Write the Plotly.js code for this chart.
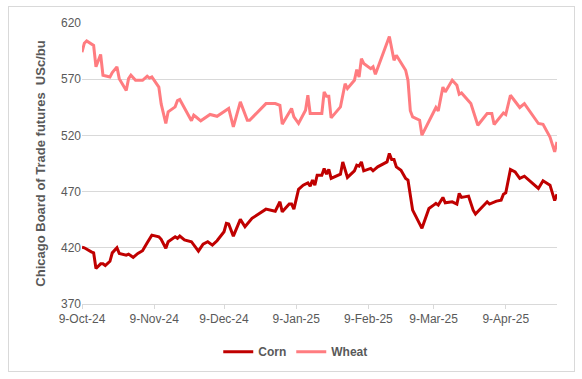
<!DOCTYPE html>
<html>
<head>
<meta charset="utf-8">
<script src="https://cdn.plot.ly/plotly-3.0.1.min.js"></script>
<style>
  html, body { margin: 0; padding: 0; background: #ffffff; }
  #wrap { position: relative; width: 582px; height: 379px; }
  #chart { position: absolute; left: 0; top: 0; width: 582px; height: 379px; }
  #frame { position: absolute; left: 8px; top: 6px; width: 565px; height: 364px; border: 1px solid #d9d9d9; pointer-events: none; }
</style>
</head>
<body>
<div id="wrap">
  <div id="chart"></div>
  <div id="frame"></div>
</div>
<script>
// ---- Data ----
const cornDates = [
  "2024-10-09","2024-10-10","2024-10-13","2024-10-14","2024-10-15","2024-10-17","2024-10-18","2024-10-19",
  "2024-10-21","2024-10-22","2024-10-24","2024-10-25","2024-10-28","2024-10-29","2024-10-30","2024-10-31",
  "2024-11-02","2024-11-04","2024-11-06","2024-11-08","2024-11-11","2024-11-12","2024-11-14","2024-11-15",
  "2024-11-18","2024-11-19","2024-11-20","2024-11-22","2024-11-25","2024-11-28","2024-11-30","2024-12-02",
  "2024-12-04","2024-12-06","2024-12-09","2024-12-10","2024-12-11","2024-12-13","2024-12-16","2024-12-18",
  "2024-12-21","2024-12-23","2024-12-27","2024-12-31","2025-01-02","2025-01-03","2025-01-06","2025-01-07",
  "2025-01-08","2025-01-10","2025-01-12","2025-01-14","2025-01-15","2025-01-16","2025-01-17","2025-01-18",
  "2025-01-20","2025-01-21","2025-01-22","2025-01-23","2025-01-24","2025-01-28","2025-01-29","2025-01-31",
  "2025-02-03","2025-02-04","2025-02-05","2025-02-06","2025-02-07","2025-02-10","2025-02-11","2025-02-13",
  "2025-02-17","2025-02-18","2025-02-19","2025-02-20","2025-02-21","2025-02-23","2025-02-25","2025-02-26",
  "2025-02-27","2025-02-28","2025-03-04","2025-03-07","2025-03-09","2025-03-10","2025-03-11","2025-03-13",
  "2025-03-14","2025-03-17","2025-03-19","2025-03-20","2025-03-21","2025-03-24","2025-03-26","2025-03-27",
  "2025-04-01","2025-04-02","2025-04-05","2025-04-07","2025-04-08","2025-04-09","2025-04-11","2025-04-13",
  "2025-04-15","2025-04-17","2025-04-23","2025-04-25","2025-04-28","2025-04-30","2025-05-01"
];
const cornValues = [
  420.5,420,416.4,415.5,401.6,405.7,405.7,404.2,
  408,415.5,420,415,413.5,414.4,413,411.5,
  415,417.4,424.5,431.3,429.8,427.5,419.5,425.4,
  429.8,428.4,430.4,427,425.4,417,423.3,425.4,
  422.4,426.3,434.3,441.7,441.1,430.4,445.3,438.7,
  446.2,449.1,454.4,452.6,461,452,459,459,
  454.4,472,475.7,477.8,474.9,480.2,475.7,484.6,
  484.6,490.6,485.5,489.7,481.7,485.5,496.4,482.6,
  488.5,493.5,492.6,496.4,488.5,490.6,488.5,492,
  496.4,503.9,498.6,498.6,492,489,481.7,480.2,
  465,453.5,437.3,455,458,459.5,458,464.8,
  460,460.9,458.9,468.4,464.8,466,453.5,450,
  460.9,458.9,461.5,462.4,467.7,468.9,489.7,487.5,
  481.7,483.7,472.8,479.6,475.7,462,467.7
];

const wheatDates = [
  "2024-10-09","2024-10-10","2024-10-11","2024-10-14","2024-10-15","2024-10-17","2024-10-18","2024-10-21",
  "2024-10-22","2024-10-24","2024-10-25","2024-10-28","2024-10-29","2024-10-30","2024-11-01","2024-11-04",
  "2024-11-06","2024-11-07","2024-11-08","2024-11-11","2024-11-12","2024-11-14","2024-11-15","2024-11-18",
  "2024-11-19","2024-11-20","2024-11-25","2024-11-26","2024-11-27","2024-11-29","2024-12-03","2024-12-06",
  "2024-12-11","2024-12-13","2024-12-16","2024-12-17","2024-12-19","2024-12-20","2024-12-27","2024-12-31",
  "2025-01-02","2025-01-03","2025-01-07","2025-01-08","2025-01-10","2025-01-13","2025-01-14","2025-01-15",
  "2025-01-20","2025-01-21","2025-01-22","2025-01-23","2025-01-24","2025-01-28","2025-01-30","2025-01-31",
  "2025-02-03","2025-02-04","2025-02-05","2025-02-06","2025-02-07","2025-02-10","2025-02-11","2025-02-12",
  "2025-02-18","2025-02-20","2025-02-21","2025-02-25","2025-02-26","2025-02-27","2025-02-28","2025-03-03",
  "2025-03-04","2025-03-10","2025-03-11","2025-03-13","2025-03-14","2025-03-17","2025-03-19","2025-03-20",
  "2025-03-21","2025-03-25","2025-03-28","2025-04-01","2025-04-03","2025-04-04","2025-04-08","2025-04-09",
  "2025-04-11","2025-04-15","2025-04-17","2025-04-23","2025-04-25","2025-04-28","2025-04-30","2025-05-01"
];
const wheatValues = [
  594,602,604,600,581,592,573.5,572,
  576,581,570.5,560,570.5,573.5,569,569,
  572.6,571,572,563,548,530.6,541,545.4,
  551,552,533,538,536.4,533,538.6,537,
  544,527.5,549.8,544.8,533.5,533.5,548.3,548.3,
  546.8,530,544,536.4,530.6,542.4,555.7,539.5,
  539.5,558.7,554.8,554.8,535.6,545.4,566,561.7,
  569,578.5,572,588.3,584,579.4,581,574.4,
  608,586.8,591.3,578,569,542,536.4,533.5,
  520.2,544.8,541.8,563,558.7,569,564.6,556.6,
  557.8,548.3,529,539.5,539.5,529.7,540,538.6,
  555.7,544.8,548.3,530.6,529.9,518.6,505.3,514.2
];

const xTickVals = ["2024-10-09","2024-11-09","2024-12-09","2025-01-09","2025-02-09","2025-03-09","2025-04-09"];
const xTickText = ["9-Oct-24","9-Nov-24","9-Dec-24","9-Jan-25","9-Feb-25","9-Mar-25","9-Apr-25"];
const seriesNames = ["Corn", "Wheat"];
const yAxisTitle = "Chicago Board of Trade futures  USc/bu";

// ---- Chart ----
const grey = "#595959";
const traces = [
  {
    x: cornDates, y: cornValues, name: seriesNames[0], type: "scatter", mode: "lines",
    line: { color: "#C00000", width: 3 }
  },
  {
    x: wheatDates, y: wheatValues, name: seriesNames[1], type: "scatter", mode: "lines",
    line: { color: "#FF7C80", width: 3 }
  }
];

const layout = {
  width: 582, height: 379,
  margin: { l: 82, r: 25, t: 23, b: 75 },
  paper_bgcolor: "#ffffff", plot_bgcolor: "#ffffff",
  font: { family: "Liberation Sans, Arial, sans-serif", color: grey, size: 12 },
  showlegend: true,
  legend: {
    orientation: "h", x: 0.45, xanchor: "center", y: -0.17, yanchor: "middle",
    font: { size: 12, color: grey, weight: "bold" },
    itemwidth: 30, tracegroupgap: 0
  },
  xaxis: {
    type: "date",
    range: ["2024-10-09", "2025-05-01"],
    tickmode: "array", tickvals: xTickVals, ticktext: xTickText,
    showgrid: false, zeroline: false,
    showline: true, linecolor: "#d9d9d9", linewidth: 1,
    ticks: "outside", ticklen: 4, tickcolor: "#d9d9d9",
    tickfont: { size: 12, color: grey }
  },
  yaxis: {
    range: [370, 620], dtick: 50, tick0: 370,
    showgrid: true, gridcolor: "#d9d9d9", gridwidth: 1,
    zeroline: false, showline: false, ticks: "",
    tickfont: { size: 12, color: grey },
    title: { text: yAxisTitle, font: { size: 13, color: grey, weight: "bold" }, standoff: 12 }
  }
};

Plotly.newPlot("chart", traces, layout, { staticPlot: true, displayModeBar: false });
</script>
</body>
</html>
